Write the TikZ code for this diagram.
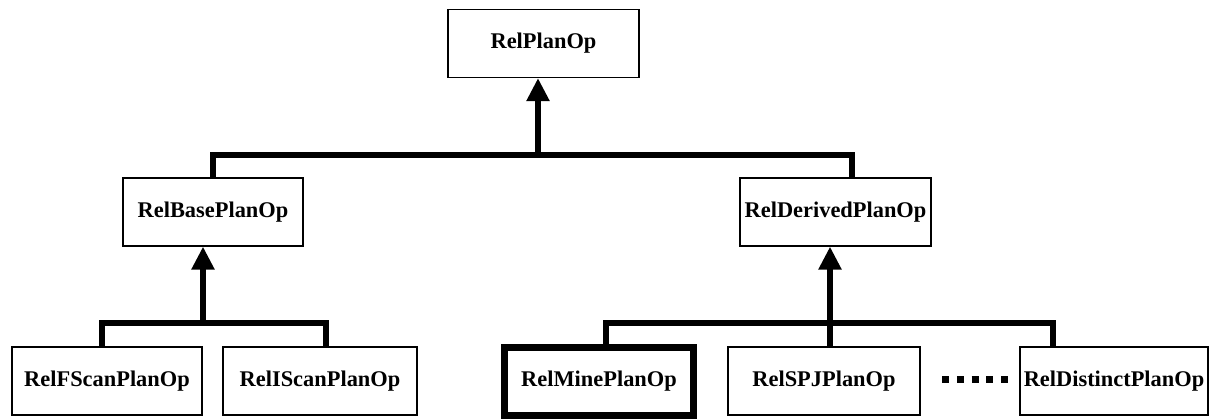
\documentclass[tikz,border=0pt]{standalone}
\usepackage{fontspec}
\setmainfont{Liberation Serif}
\usetikzlibrary{arrows.meta}
\begin{document}
\begin{tikzpicture}[x=1pt,y=-1pt,
  cls/.style={draw=black, line width=1.3pt, fill=white, inner sep=0pt,
    minimum height=68pt, font=\fontsize{22.4}{24}\selectfont\bfseries},
  hot/.style={cls, line width=7pt},
  bar/.style={line width=5.5pt, line join=miter},
  inh/.style={bar, -{Triangle[width=22pt,length=23pt]}},
  more/.style={line width=7pt, dash pattern=on 7pt off 7.75pt}
]
\useasboundingbox (0,0) rectangle (1214,418);
% classes
\node[cls, minimum width=191pt] (top) at (543.5,43.5) {RelPlanOp};
\node[cls, minimum width=180pt] (base) at (213,212) {RelBasePlanOp};
\node[cls, minimum width=191pt] (derived) at (835.5,212) {RelDerivedPlanOp};
\node[cls, minimum width=190pt] (fscan) at (107,381) {RelFScanPlanOp};
\node[cls, minimum width=194pt] (iscan) at (320,381) {RelIScanPlanOp};
\node[hot, minimum width=189pt, minimum height=68pt] (mine) at (599,381) {RelMinePlanOp};
\node[cls, minimum width=192pt] (spj) at (824,381) {RelSPJPlanOp};
\node[cls, minimum width=188pt] (distinct) at (1114,381) {RelDistinctPlanOp};
% junction points
\coordinate (j1) at (538,155);
\coordinate (j2) at (203,323);
\coordinate (j3) at (830,323);
% level 1
\draw[bar] (base.north) -- (base.north |- j1) -- ([xshift=16.5pt]derived.north |- j1) -- ([xshift=16.5pt]derived.north);
\draw[inh] (j1) -- (j1 |- top.south);
% left subtree
\draw[bar] ([xshift=-5pt]fscan.north) -- ([xshift=-5pt]fscan.north |- j2) -- ([xshift=6pt]iscan.north |- j2) -- ([xshift=6pt]iscan.north);
\draw[inh] (j2) -- (j2 |- base.south);
% right subtree
\draw[bar] ([xshift=7pt]mine.north) -- ([xshift=7pt]mine.north |- j3) -- ([xshift=-61pt]distinct.north |- j3) -- ([xshift=-61pt]distinct.north);
\draw[bar] (j3 |- spj.north) -- (j3);
\draw[inh] (j3) -- (j3 |- derived.south);
% ellipsis
\coordinate (d1) at (942,379);
\coordinate (d2) at (1010,379);
\draw[more] (d1) -- (d2);
\end{tikzpicture}
\end{document}
